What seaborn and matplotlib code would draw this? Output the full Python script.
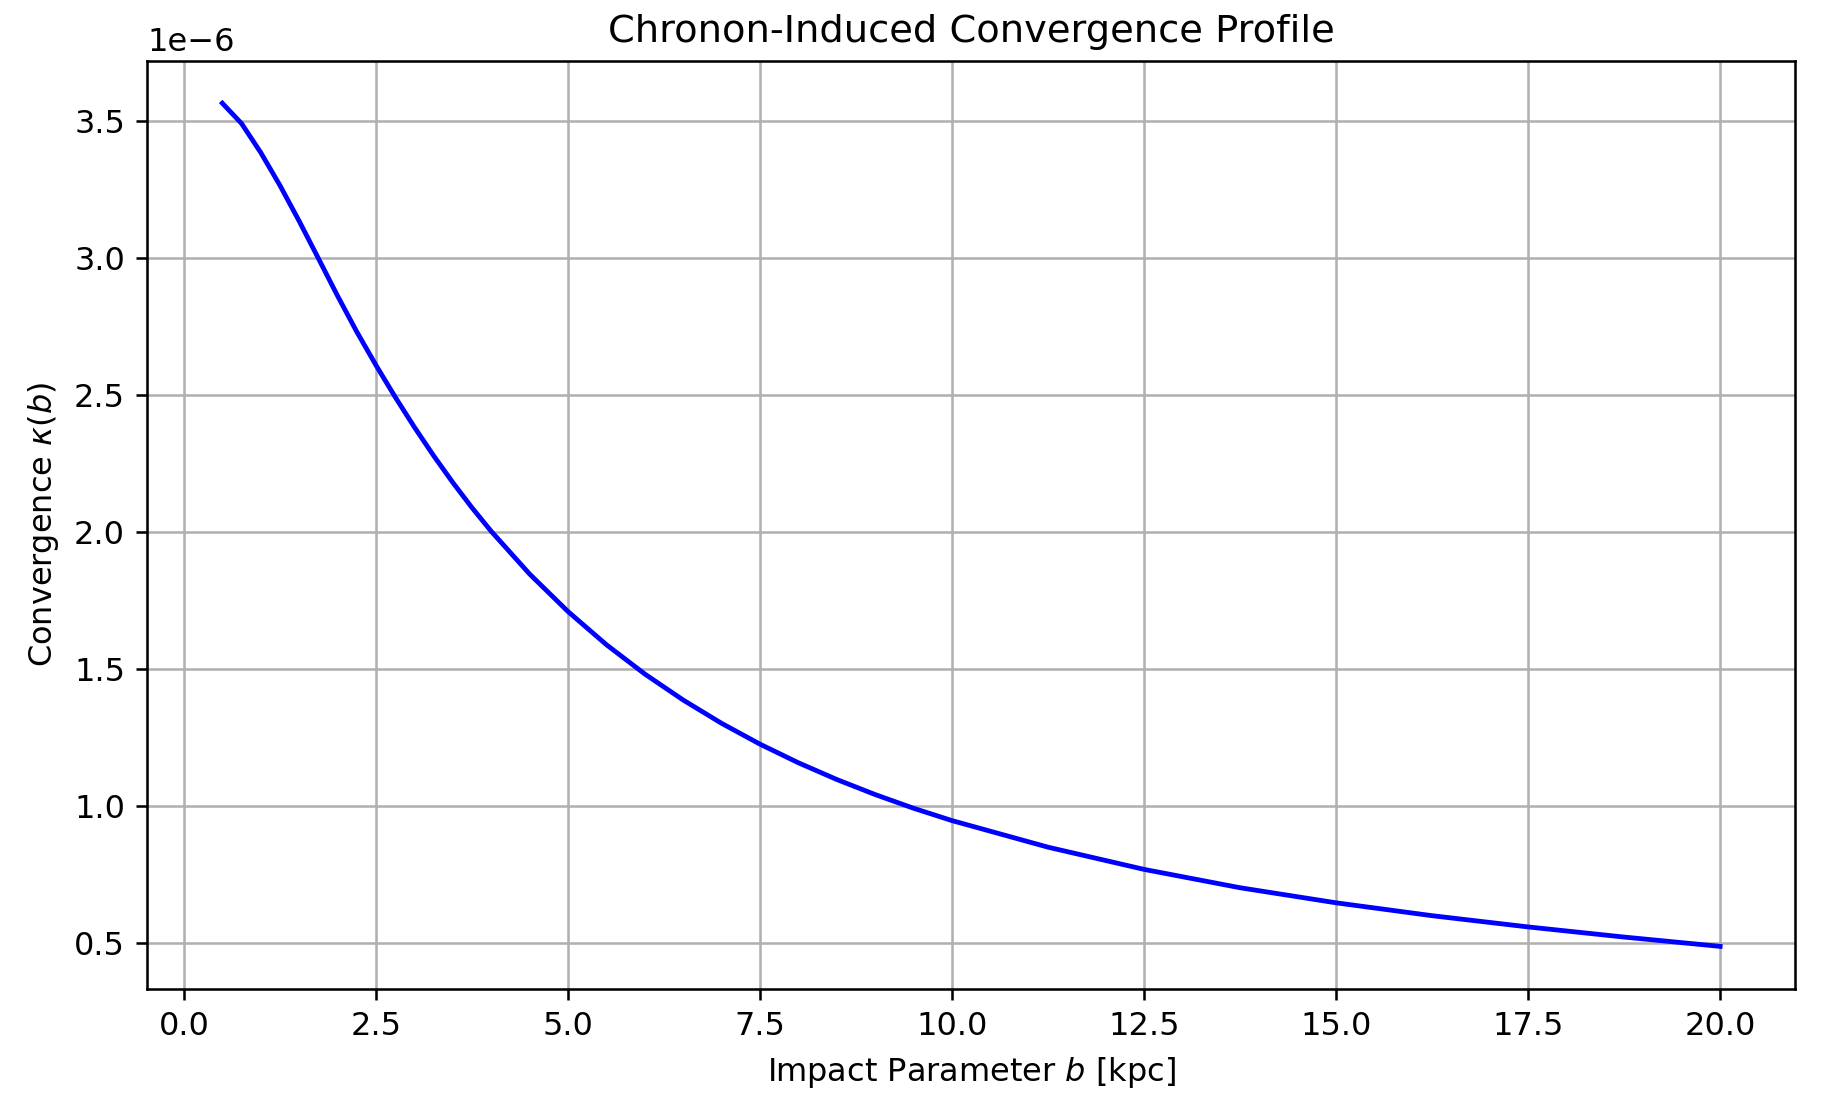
import numpy as np
import pandas as pd
import matplotlib
matplotlib.use("Agg")
import matplotlib.pyplot as plt
import seaborn as sns

# impact parameter b [kpc] and convergence kappa(b) (units of 1e-6)
impact_b = [0.5, 0.75, 1.0, 1.25, 1.5, 1.75, 2.0, 2.25, 2.5, 2.75, 3.0, 3.25,
            3.5, 3.75, 4.0, 4.5, 5.0, 5.5, 6.0, 6.5, 7.0, 7.5, 8.0, 8.5, 9.0,
            9.5, 10.0, 11.25, 12.5, 13.75, 15.0, 16.25, 17.5, 18.75, 20.0]
kappa_e6 = [3.566, 3.492, 3.386, 3.266, 3.136, 3.0, 2.863, 2.732, 2.610,
            2.494, 2.384, 2.280, 2.182, 2.090, 2.004, 1.848, 1.711, 1.590,
            1.483, 1.388, 1.303, 1.227, 1.159, 1.098, 1.043, 0.993, 0.948,
            0.851, 0.770, 0.703, 0.648, 0.601, 0.560, 0.523, 0.489]

df = pd.DataFrame({"b": impact_b, "kappa": np.array(kappa_e6) * 1e-6})

fig, ax = plt.subplots(figsize=(1827 / 230, 1106 / 230), dpi=230)
fig.subplots_adjust(left=0.0807, right=0.9825, top=0.9448, bottom=0.1062)

sns.lineplot(data=df, x="b", y="kappa", color="blue", linewidth=1.5, ax=ax)

ax.set_title("Chronon-Induced Convergence Profile")
ax.set_xlabel("Impact Parameter $b$ [kpc]")
ax.set_ylabel(r"Convergence $\kappa(b)$")
ax.grid(True)

fig.savefig("out.png", dpi=230)
